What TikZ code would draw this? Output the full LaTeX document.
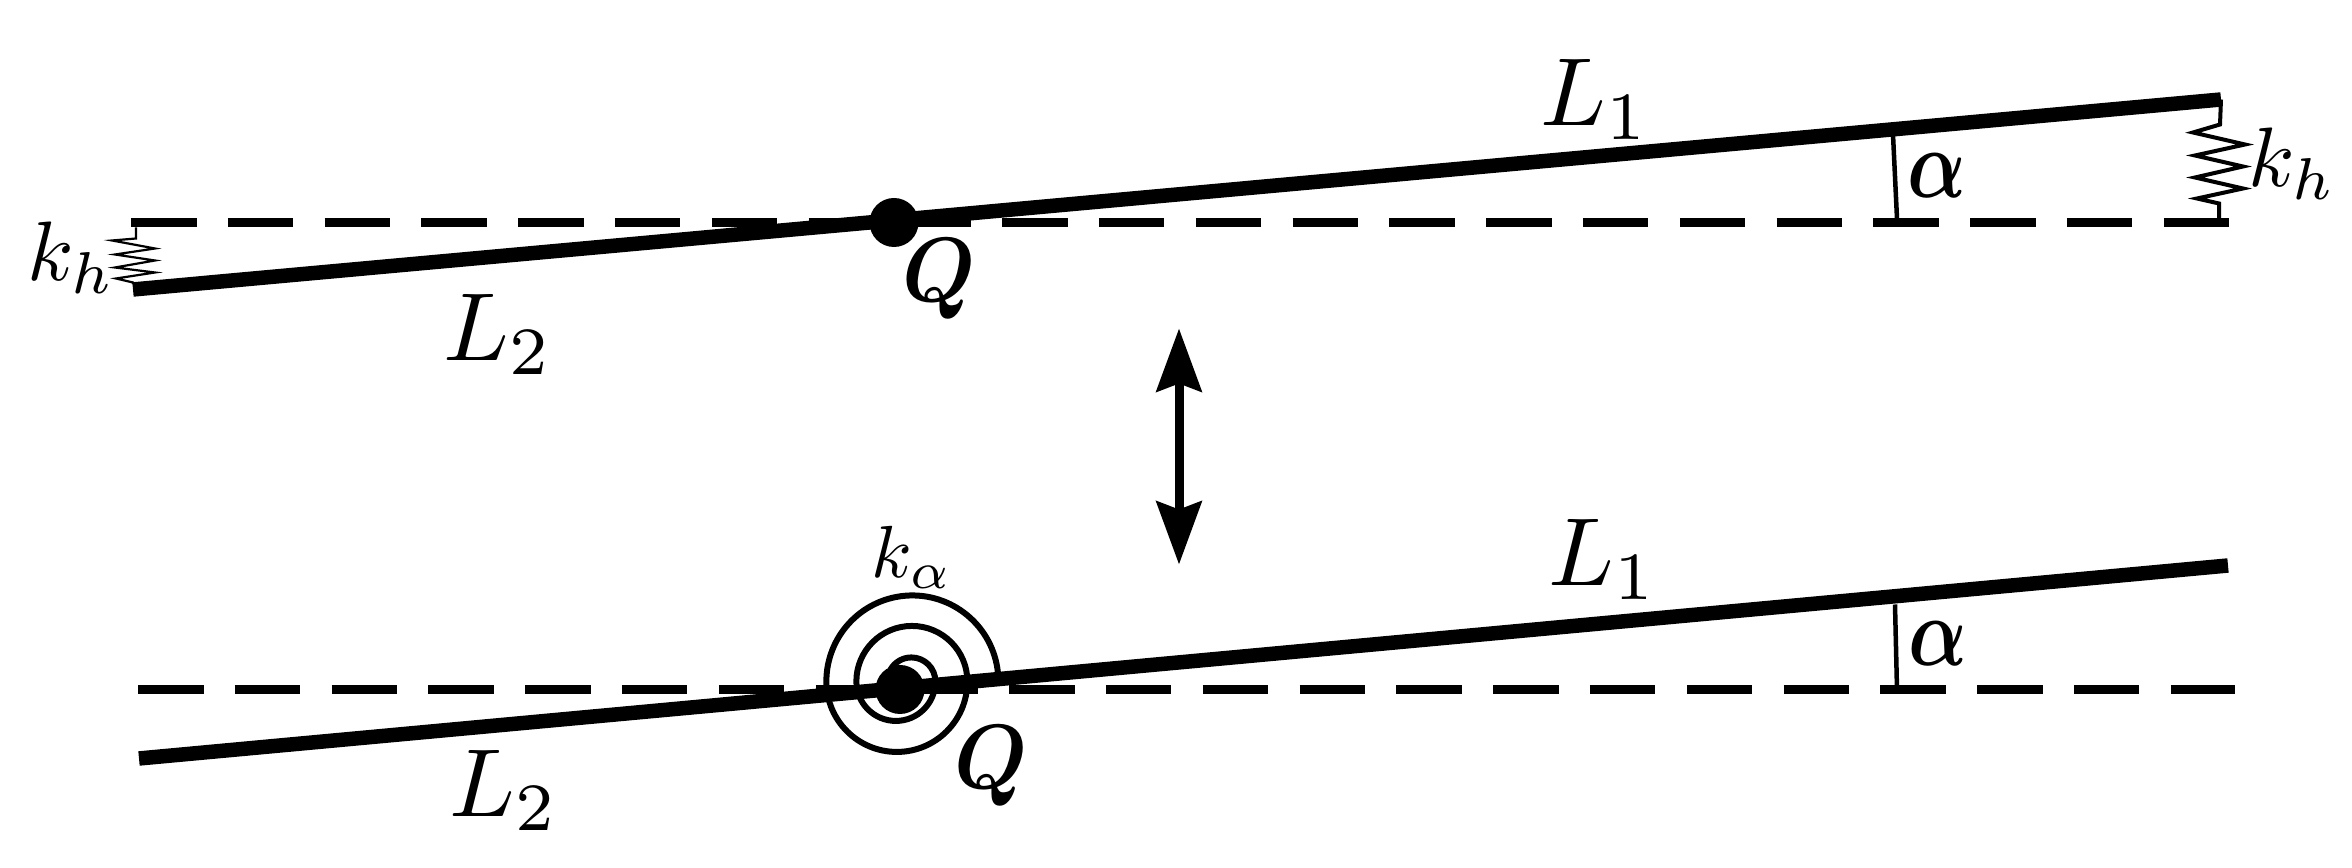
\documentclass[tikz,border=0pt]{standalone}
\usepackage{tikz}
\usepackage{amsmath}
\usetikzlibrary{arrows.meta}

\begin{document}
\begin{tikzpicture}[x=0.1mm,y=0.1mm,
	beam/.style={line width=1.45mm},
	axis/.style={line width=0.95mm,dash pattern=on 6.55mm off 3.13mm},
	pivot/.style={circle,fill=black,inner sep=0pt,minimum size=4.9mm},
	lab/.style={scale=2.4,inner sep=0pt},
	biglab/.style={scale=2.75,inner sep=0pt},
	qlab/.style={xscale=2.4,yscale=2.6,inner sep=0pt},
	alab/.style={xscale=2.2,yscale=2.8,inner sep=0pt}]
	\useasboundingbox (0,1.5) rectangle (2352,869.5);

	% upper beam
	\coordinate (A1) at (131,647); \coordinate (A2) at (2229,647);
	\coordinate (B1) at (133,580); \coordinate (B2) at (2221,770);
	\draw[axis] (A1) -- (A2);
	\draw[beam] (B1) -- (B2);
	\node[pivot] (Q1) at (894,647) {};
	\node[qlab] (Qtxt1) at (939,590) {$\boldsymbol{Q}$};
	\node[biglab] (Ltxt1) at (1595,770) {$L_1$};
	\node[biglab] (Ltxt2) at (498,535) {$L_2$};
	\node[alab] (atxt1) at (1937,694) {$\boldsymbol{\alpha}$};
	\node[lab] (ktxt1) at (2292,706) {$k_h$};
	\node[lab] (ktxt2) at (71,612) {$k_h$};
	\coordinate (T1) at (1893,735); \coordinate (T2) at (1897,651);
	\draw[line width=0.45mm] (T1) -- (T2);

	% springs
	\coordinate (S1) at (2221,770); \coordinate (S2) at (2219,651);
	\draw[line width=0.4mm] (S1) -- (2220,745) -- (2193,737) -- (2245,725) -- (2195,714) -- (2243,703)
		-- (2195,692) -- (2243,681) -- (2197,671) -- (2219,666) -- (S2);
	\coordinate (S3) at (136,642); \coordinate (S4) at (133,585);
	\draw[line width=0.22mm] (S3) -- (136,631) -- (112,629) -- (155,621) -- (115,615) -- (155,609)
		-- (115,602) -- (155,597) -- (116,591) -- (133,587) -- (S4);

	% arrow
	\coordinate (U) at (1179,541); \coordinate (D) at (1179,305);
	\draw[line width=0.9mm,{Stealth[length=6.3mm,width=4.5mm,inset=0.8mm]}-{Stealth[length=6.3mm,width=4.5mm,inset=0.8mm]}] (U) -- (D);

	% lower beam
	\coordinate (A3) at (138,180); \coordinate (A4) at (2235,180);
	\coordinate (B3) at (139,111); \coordinate (B4) at (2228,304);
	\draw[axis] (A3) -- (A4);
	\draw[beam] (B3) -- (B4);
	\node[pivot] (Q2) at (900,180) {};
	\node[qlab] (Qtxt2) at (991,103) {$\boldsymbol{Q}$};
	\node[biglab] (Ltxt3) at (1603,310) {$L_1$};
	\node[biglab] (Ltxt4) at (504,79) {$L_2$};
	\node[alab] (atxt2) at (1938,226) {$\boldsymbol{\alpha}$};
	\node[scale=2.1,inner sep=0pt] (ktxt3) at (912,312) {$k_\alpha$};
	\coordinate (T3) at (1895,265); \coordinate (T4) at (1897,180);
	\draw[line width=0.45mm] (T3) -- (T4);

	% torsion spring
	\draw[line width=0.6mm] (998,196) arc[start angle=5.3,end angle=180,radius=86]
		arc[start angle=180,end angle=360,radius=70.5]
		arc[start angle=0,end angle=180,radius=55.5]
		arc[start angle=180,end angle=360,radius=39.5]
		arc[start angle=0,end angle=150,radius=24];

\end{tikzpicture}
\end{document}
